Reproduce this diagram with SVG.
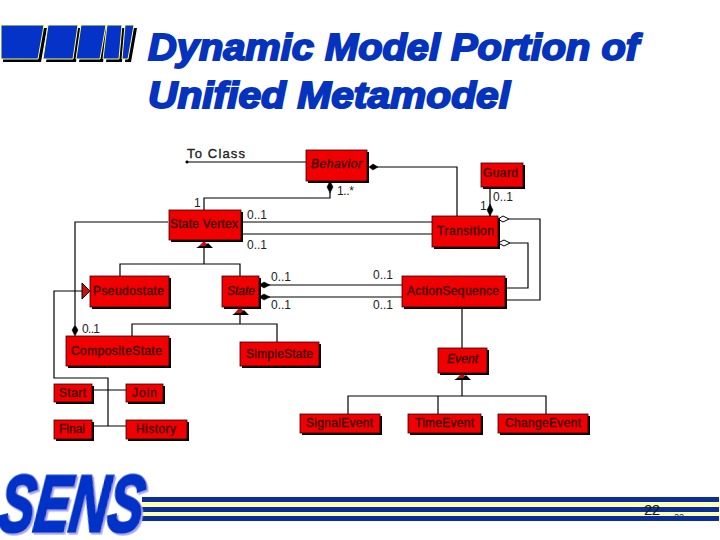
<svg xmlns="http://www.w3.org/2000/svg" width="720" height="540" viewBox="0 0 720 540">
<style>
text{font-family:"Liberation Sans",Arial,sans-serif}
.box{fill:#f00000;stroke:#300;stroke-width:.8}
.sh{fill:#000}
.n{font-size:12px;fill:#3a0000;stroke:#3a0000;stroke-width:.35}
.i{font-style:italic}
.l{font-size:12px;fill:#222}
.c{fill:none;stroke:#000;stroke-width:1.2}
.d{fill:#000;stroke:#000;stroke-width:.5}
.o{fill:#fff;stroke:#000;stroke-width:1}
.t{fill:#c81010;stroke:none}
.title{font-size:37px;font-weight:bold;font-style:italic;fill:#0533bd;stroke:#0533bd;stroke-width:1.9}
.bar{fill:#0533c8;stroke:#ffff90;stroke-width:1}
.barsh{fill:#000}
</style>
<defs>
<clipPath id="pg"><rect x="670" y="505" width="20" height="11"/></clipPath>
<filter id="lav" x="-5%" y="-5%" width="112%" height="112%"><feDropShadow dx="3" dy="2" stdDeviation="0" flood-color="#a9a9ea"/></filter>
</defs>
<g id="header-bars">
<path class="barsh" d="M3 28H47L41 62H3ZM51 28H81L76 62H46ZM84 28H109L103 62H79ZM110 28H125L122 62H106ZM128 28H137L131 62H125Z"/>
<path class="bar" d="M1 25H44L38 59H1ZM48 25H78L73 59H43ZM81 25H106L100 59H76ZM107 25H122L119 59H103ZM125 25H134L128 59H122Z"/>
</g>
<g id="title">
<text class="title" x="148" y="60" textLength="491" lengthAdjust="spacingAndGlyphs">Dynamic Model Portion of</text>
<text class="title" x="148" y="108" textLength="362" lengthAdjust="spacingAndGlyphs">Unified Metamodel</text>
</g>
<g id="connectors">
<path class="c" d="M187 162H306" stroke-width="1.6"/>
<circle class="d" cx="187" cy="162" r="1.3"/>
<path class="c" d="M377 167H457V216"/>
<path class="d" d="M369 167L373 164L378 167L373 170Z"/>
<path class="c" d="M330 192V198H204V210"/>
<path class="d" d="M330 181L333 187L330 193L327 187Z"/>
<path class="c" d="M241 222H432M241 234H432"/>
<path class="c" d="M490 187V216"/>
<path class="d" d="M490 204L493 210L490 216L487 210Z"/>
<path class="c" d="M509 219H540V300H505M510 243H528V288H505"/>
<path class="o" d="M498 219L503 216L509 219L503 222Z"/>
<path class="o" d="M498 243L504 240L510 243L504 246Z"/>
<path class="c" d="M259 285H402M259 297H402"/>
<path class="d" d="M259 285L264 282L270 285L264 288Z"/>
<path class="d" d="M259 297L264 294L270 297L264 300Z"/>
<path class="c" d="M462 307V348"/>
<path class="c" d="M204 248V264M120 276V264H240V276"/>
<path class="c" d="M240 315V324M132 336V324H277V342"/>
<path class="c" d="M168 222H75V325"/>
<path class="d" d="M75 325L78 330L75 336L72 330Z"/>
<path class="c" d="M82 291H54V378H108V426M92 390H126M92 426H126"/>
<path class="c" d="M462 380V396M348 414V396H546V414M438 396V414"/>
<path d="M197 248L204 241L211 248Z" class="t"/><path d="M196 248H213L208 243L205 246H200Z" class="sh"/>
<path d="M233 315L240 307L247 315Z" class="t"/><path d="M232 315H249L244 310L241 313H236Z" class="sh"/>
<path d="M455 380L462 373L469 380Z" class="t"/><path d="M454 380H471L466 375L463 378H458Z" class="sh"/>
<path d="M82 283L90 291L82 299Z" fill="#c81010" stroke="#000" stroke-width="1"/>
</g>
<g id="to-class"><text x="187" y="158" font-size="13" fill="#222" textLength="58" style="stroke:#222;stroke-width:.35">To Class</text></g>
<g id="behavior"><rect class="sh" x="308" y="152" width="61" height="31"/><rect class="box" x="306" y="150" width="61" height="31"/><text class="n i" x="311" y="168" textLength="51">Behavior</text></g>
<g id="state-vertex"><rect class="sh" x="171" y="212" width="72" height="30"/><rect class="box" x="169" y="210" width="72" height="30"/><text class="n" x="170" y="228" textLength="68">State Vertex</text></g>
<g id="guard"><rect class="sh" x="483" y="165" width="42" height="24"/><rect class="box" x="481" y="163" width="42" height="24"/><text class="n" x="483" y="177" textLength="35">Guard</text></g>
<g id="transition"><rect class="sh" x="434" y="218" width="66" height="31"/><rect class="box" x="432" y="216" width="66" height="31"/><text class="n" x="437" y="235" textLength="57">Transition</text></g>
<g id="pseudostate"><rect class="sh" x="92" y="278" width="79" height="31"/><rect class="box" x="90" y="276" width="79" height="31"/><text class="n" x="93" y="295" textLength="71">Pseudostate</text></g>
<g id="state"><rect class="sh" x="224" y="278" width="37" height="31"/><rect class="box" x="222" y="276" width="37" height="31"/><text class="n i" x="227" y="295" textLength="28">State</text></g>
<g id="action-sequence"><rect class="sh" x="404" y="278" width="103" height="31"/><rect class="box" x="402" y="276" width="103" height="31"/><text class="n" x="407" y="295" textLength="92">ActionSequence</text></g>
<g id="composite-state"><rect class="sh" x="68" y="338" width="103" height="30"/><rect class="box" x="66" y="336" width="103" height="30"/><text class="n" x="71" y="355" textLength="91">CompositeState</text></g>
<g id="simple-state"><rect class="sh" x="242" y="344" width="79" height="24"/><rect class="box" x="240" y="342" width="79" height="24"/><text class="n" x="246" y="358" textLength="67">SimpleState</text></g>
<g id="event"><rect class="sh" x="440" y="350" width="49" height="25"/><rect class="box" x="438" y="348" width="49" height="25"/><text class="n i" x="447" y="363" textLength="31">Event</text></g>
<g id="start"><rect class="sh" x="56" y="386" width="38" height="18"/><rect class="box" x="54" y="384" width="38" height="18"/><text class="n" x="59" y="397" textLength="27">Start</text></g>
<g id="join"><rect class="sh" x="128" y="386" width="37" height="18"/><rect class="box" x="126" y="384" width="37" height="18"/><text class="n" x="132" y="397" textLength="25">Join</text></g>
<g id="final"><rect class="sh" x="56" y="422" width="38" height="19"/><rect class="box" x="54" y="420" width="38" height="19"/><text class="n" x="59" y="433" textLength="26">Final</text></g>
<g id="history"><rect class="sh" x="128" y="422" width="61" height="19"/><rect class="box" x="126" y="420" width="61" height="19"/><text class="n" x="136" y="433" textLength="40">History</text></g>
<g id="signal-event"><rect class="sh" x="302" y="416" width="80" height="19"/><rect class="box" x="300" y="414" width="80" height="19"/><text class="n" x="306" y="427" textLength="67">SignalEvent</text></g>
<g id="time-event"><rect class="sh" x="410" y="416" width="73" height="19"/><rect class="box" x="408" y="414" width="73" height="19"/><text class="n" x="415" y="427" textLength="59">TimeEvent</text></g>
<g id="change-event"><rect class="sh" x="500" y="416" width="90" height="19"/><rect class="box" x="498" y="414" width="90" height="19"/><text class="n" x="505" y="427" textLength="76">ChangeEvent</text></g>
<g id="labels">
<text class="l" x="337" y="195" textLength="17">1..*</text>
<text class="l" x="194" y="207">1</text>
<text class="l" x="247" y="219" textLength="20">0..1</text>
<text class="l" x="247" y="249" textLength="20">0..1</text>
<text class="l" x="493" y="201" textLength="20">0..1</text>
<text class="l" x="480" y="210">1</text>
<text class="l" x="271" y="281" textLength="20">0..1</text>
<text class="l" x="271" y="309" textLength="20">0..1</text>
<text class="l" x="373" y="279" textLength="20">0..1</text>
<text class="l" x="373" y="309" textLength="20">0..1</text>
<text class="l" x="82" y="333" textLength="18">0..1</text>
</g>
<g id="footer">
<rect x="142" y="496" width="577" height="26" fill="#ffffb0"/>
<rect x="142" y="497" width="577" height="5" fill="#0a2e9c"/>
<rect x="142" y="507" width="577" height="5" fill="#0a2e9c"/>
<rect x="142" y="516" width="577" height="5" fill="#0a2e9c"/>
<text transform="translate(-3 531) skewX(-7) scale(.63 .94)" font-size="84" font-weight="bold" font-style="italic" fill="#0533c8" stroke="#0533c8" stroke-width="3.5" filter="url(#lav)">SENS</text>
<text x="644" y="515" font-size="15" fill="#111" textLength="16">22</text>
<text x="674" y="520" font-size="9" fill="#111" clip-path="url(#pg)">22</text>
</g>
</svg>
